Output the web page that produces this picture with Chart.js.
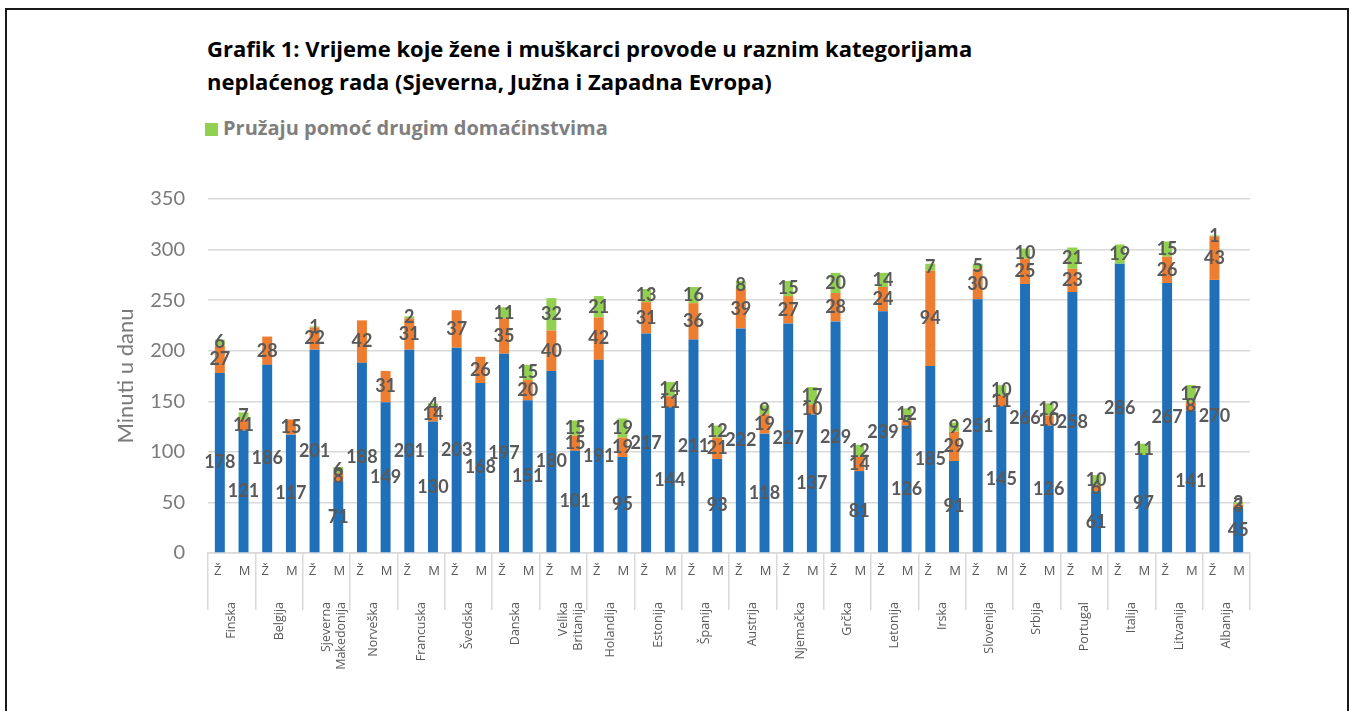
<!DOCTYPE html>
<html lang="bs">
<head>
    <meta charset="UTF-8">
    <title>Grafik 1: Neplaćeni rad</title>
    <script src="https://cdn.jsdelivr.net/npm/chart.js"></script>
    <style>
        html, body { margin: 0; padding: 0; background: #fff; }
        body { width: 1351px; height: 711px; overflow: hidden; position: relative; font-family: "Open Sans", sans-serif; }
        .frame { position: absolute; left: 5px; top: 8px; width: 1340px; height: 720px; border: 2px solid #1a1a1a; }
        .title { position: absolute; left: 207px; top: 32px; font-weight: bold; font-size: 22px; line-height: 33px; color: #000; }
        .legend { position: absolute; left: 205px; top: 115px; font-weight: bold; font-size: 20px; color: #7f7f7f; line-height: 26px; }
        .legend span.box { display: inline-block; width: 13px; height: 13px; background: #92d050; margin-right: 5px; vertical-align: -1px; }
        .chart-box { position: absolute; left: 0; top: 0; width: 1351px; height: 711px; }
    </style>
</head>
<body>
    <div class="frame"></div>
    <div class="title">Grafik 1: Vrijeme koje žene i muškarci provode u raznim kategorijama<br>neplaćenog rada (Sjeverna, Južna i Zapadna Evropa)</div>
    <div class="legend"><span class="box"></span>Pružaju pomoć drugim domaćinstvima</div>
    <div class="chart-box"><canvas id="rad"></canvas></div>

    <script>
        const countries = ['Finska', 'Belgija', ['Sjeverna', 'Makedonija'], 'Norveška', 'Francuska', 'Švedska', 'Danska',
            ['Velika', 'Britanija'], 'Holandija', 'Estonija', 'Španija', 'Austrija', 'Njemačka', 'Grčka', 'Letonija',
            'Irska', 'Slovenija', 'Srbija', 'Portugal', 'Italija', 'Litvanija', 'Albanija'];
        const genders = ['Ž', 'M'];

        // žene
        const zBlue   = [178, 186, 201, 188, 201, 203, 197, 180, 191, 217, 211, 222, 227, 229, 239, 185, 251, 266, 258, 286, 267, 270];
        const zOrange = [27, 28, 22, 42, 31, 37, 35, 40, 42, 31, 36, 39, 27, 28, 24, 94, 30, 25, 23, 0, 26, 43];
        const zGreen  = [6, 0, 1, 0, 2, 0, 11, 32, 21, 13, 16, 8, 15, 20, 14, 7, 5, 10, 21, 19, 15, 1];
        // muškarci
        const mBlue   = [121, 117, 71, 149, 130, 168, 151, 101, 95, 144, 93, 118, 137, 81, 126, 91, 145, 126, 61, 97, 141, 45];
        const mOrange = [11, 15, 8, 31, 14, 26, 20, 15, 19, 11, 21, 19, 10, 14, 5, 29, 11, 10, 6, 0, 8, 3];
        const mGreen  = [7, 0, 6, 0, 4, 0, 15, 15, 19, 14, 12, 9, 17, 12, 12, 9, 10, 12, 10, 11, 17, 2];

        const yTicks = [0, 50, 100, 150, 200, 250, 300, 350];

        const BLUE = '#1f70b8', ORANGE = '#ed7d31', GREEN = '#92d050';
        const GRID = '#d9d9d9';

        // value labels in the middle of each segment + Ž/M under each bar
        const segLabels = {
            id: 'segLabels',
            afterDatasetsDraw(chart) {
                const ctx = chart.ctx;
                ctx.save();
                ctx.font = 'bold 18px Lato';
                ctx.fillStyle = '#595959';
                ctx.textAlign = 'center';
                ctx.textBaseline = 'middle';
                chart.data.datasets.forEach((ds, i) => {
                    chart.getDatasetMeta(i).data.forEach((bar, j) => {
                        const v = ds.data[j];
                        if (!v) return;
                        ctx.fillText(v, bar.x, (bar.y + bar.base) / 2);
                    });
                });
                ctx.font = '13px "Open Sans"';
                const y = chart.chartArea.bottom + 18;
                [0, 3].forEach((di, g) => {
                    chart.getDatasetMeta(di).data.forEach(bar => {
                        ctx.fillText(genders[g], bar.x - (g === 0 ? 2 : -1), y);
                    });
                });
                ctx.restore();
            }
        };

        function ds(label, data, color, stack) {
            return { label, data, backgroundColor: color, stack, borderWidth: 0,
                     categoryPercentage: 1.0, barPercentage: 0.42 };
        }

        new Chart(document.getElementById('rad'), {
            type: 'bar',
            data: {
                labels: countries,
                datasets: [
                    ds('Ž 1', zBlue, BLUE, 'z'),
                    ds('Ž 2', zOrange, ORANGE, 'z'),
                    ds('Pružaju pomoć drugim domaćinstvima', zGreen, GREEN, 'z'),
                    ds('M 1', mBlue, BLUE, 'm'),
                    ds('M 2', mOrange, ORANGE, 'm'),
                    ds('M 3', mGreen, GREEN, 'm')
                ]
            },
            options: {
                responsive: true,
                maintainAspectRatio: false,
                animation: false,
                layout: { padding: { left: 109, right: 101, top: 199, bottom: 0 } },
                plugins: { legend: { display: false }, tooltip: { enabled: false } },
                scales: {
                    x: {
                        stacked: true,
                        afterFit: s => { s.height = 158; },
                        grid: { offset: true, drawOnChartArea: false, tickLength: 57, color: GRID, lineWidth: 1.5 },
                        border: { color: GRID, width: 1.5 },
                        ticks: { minRotation: 90, maxRotation: 90, autoSkip: false, padding: -8,
                                 color: '#595959', font: { family: 'Open Sans', size: 12.5 } }
                    },
                    y: {
                        stacked: true,
                        min: 0, max: 350,
                        afterFit: s => { s.width = 99; },
                        afterBuildTicks: s => { s.ticks = yTicks.map(v => ({ value: v })); },
                        grid: { color: GRID, lineWidth: 1.5, drawTicks: false },
                        border: { display: false },
                        ticks: { padding: 23, color: '#7a7a7a', font: { family: 'Lato', size: 20 } },
                        title: { display: true, text: 'Minuti u danu', color: '#7a7a7a', font: { family: 'Lato', size: 22 } }
                    }
                }
            },
            plugins: [segLabels]
        });
    </script>
</body>
</html>
